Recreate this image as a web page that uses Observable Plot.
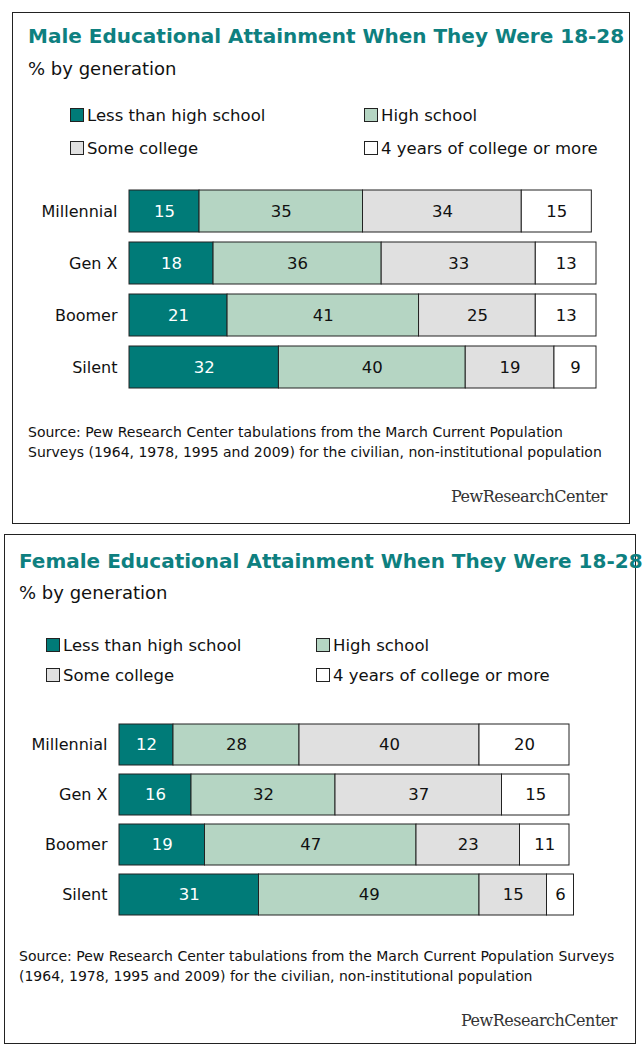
<!DOCTYPE html>
<html><head><meta charset="utf-8">
<script src="https://cdn.jsdelivr.net/npm/d3@7"></script>
<script src="https://cdn.jsdelivr.net/npm/@observablehq/plot@0.6"></script>
<style>
body{margin:0;width:644px;height:1050px;position:relative;font-family:"DejaVu Sans",sans-serif;background:#fff}
.panel{position:absolute;border:1px solid #222;box-sizing:border-box}
.t{position:absolute;white-space:nowrap}
.title{color:#0e8080;font-weight:bold;font-size:20px}
.sub{font-size:18px;color:#111}
.leg{font-size:16.5px;color:#111}
.leg span{display:inline-block;width:12px;height:12px;border:1px solid #222;margin-right:3px;vertical-align:-1px}
.src{font-size:14px;color:#111;line-height:20px;white-space:normal}
.pew{font-family:"DejaVu Serif",serif;font-size:16px;color:#333;letter-spacing:-0.5px}
.plot{position:absolute;left:0}
</style></head><body>
<div class="panel" style="left:12px;top:12px;width:618px;height:512px"></div>
<div class="panel" style="left:4px;top:534px;width:632px;height:510px"></div>

<div class="t title" style="left:28px;top:24px">Male Educational Attainment When They Were 18-28</div>
<div class="t sub" style="left:28px;top:58px">% by generation</div>
<div class="t leg" style="left:70px;top:106px"><span style="background:#007b78"></span>Less than high school</div>
<div class="t leg" style="left:364px;top:106px"><span style="background:#b5d5c3"></span>High school</div>
<div class="t leg" style="left:70px;top:139px"><span style="background:#e0e0e0"></span>Some college</div>
<div class="t leg" style="left:364px;top:139px"><span style="background:#fff"></span>4 years of college or more</div>
<div id="m" class="plot" style="top:185px"></div>
<div class="t src" style="left:28px;top:422px;width:590px">Source: Pew Research Center tabulations from the March Current Population Surveys (1964, 1978, 1995 and 2009) for the civilian, non-institutional population</div>
<div class="t pew" style="left:451px;top:487px">PewResearchCenter</div>

<div class="t title" style="left:19px;top:549px">Female Educational Attainment When They Were 18-28</div>
<div class="t sub" style="left:19px;top:582px">% by generation</div>
<div class="t leg" style="left:46px;top:636px"><span style="background:#007b78"></span>Less than high school</div>
<div class="t leg" style="left:316px;top:636px"><span style="background:#b5d5c3"></span>High school</div>
<div class="t leg" style="left:46px;top:666px"><span style="background:#e0e0e0"></span>Some college</div>
<div class="t leg" style="left:316px;top:666px"><span style="background:#fff"></span>4 years of college or more</div>
<div id="f" class="plot" style="top:718px"></div>
<div class="t src" style="left:19px;top:946px;width:600px">Source: Pew Research Center tabulations from the March Current Population Surveys (1964, 1978, 1995 and 2009) for the civilian, non-institutional population</div>
<div class="t pew" style="left:461px;top:1011px">PewResearchCenter</div>

<script>
const generations = ["Millennial","Gen X","Boomer","Silent"];
const levels = ["Less than high school","High school","Some college","4 years of college or more"];
const colors = ["#007b78","#b5d5c3","#e0e0e0","#ffffff"];
const maleValues = [[15,35,34,15],[18,36,33,13],[21,41,25,13],[32,40,19,9]];
const femaleValues = [[12,28,40,20],[16,32,37,15],[19,47,23,11],[31,49,15,6]];

function rows(vals){
  const out=[];
  generations.forEach((g,i)=>{let x=0;levels.forEach((l,j)=>{const v=vals[i][j];out.push({g,l,j,x1:x,x2:x+v,v});x+=v;});});
  return out;
}
function chart(vals, ml, mr, h){
  const data=rows(vals);
  return Plot.plot({
    width:644,height:h,marginLeft:ml,marginRight:mr,marginTop:0,marginBottom:2,
    style:{fontFamily:"DejaVu Sans",fontSize:"16px",color:"#111"},
    x:{domain:[0,100],axis:null},
    y:{domain:generations,paddingInner:0.19,paddingOuter:0.095,label:null,tickSize:0,tickPadding:12},
    color:{domain:levels,range:colors},
    marks:[
      Plot.rectX(data,{y:"g",x1:"x1",x2:"x2",fill:"l",stroke:"#222",strokeWidth:1}),
      Plot.text(data,{y:"g",x:d=>(d.x1+d.x2)/2,text:"v",fill:d=>d.j===0?"#fff":"#111",fontSize:16.5})
    ]
  });
}
document.getElementById("m").appendChild(chart(maleValues,129,48,210));
document.getElementById("f").appendChild(chart(femaleValues,119,75,205));
</script>
</body></html>
